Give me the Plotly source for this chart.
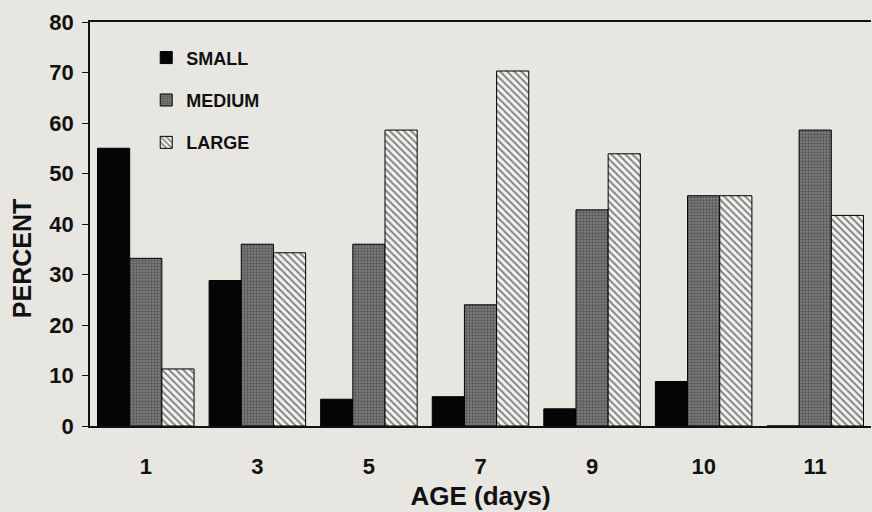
import plotly.graph_objects as go

ages = ["1", "3", "5", "7", "9", "10", "11"]
small = [55.0, 28.8, 5.3, 5.8, 3.4, 8.8, 0.0]
medium = [33.2, 36.0, 36.0, 24.0, 42.8, 45.6, 58.6]
large = [11.3, 34.3, 58.6, 70.3, 53.9, 45.6, 41.7]
y_ticks = [0, 10, 20, 30, 40, 50, 60, 70, 80]

FONT = "Liberation Sans, Arial, sans-serif"
BG = "#e8e6e1"

fig = go.Figure()
fig.add_trace(go.Bar(
    x=ages, y=small, name="SMALL", legendgroup="s",
    marker=dict(color="#050505", line=dict(color="#000000", width=1)),
))
fig.add_trace(go.Bar(
    x=ages, y=medium, name="MEDIUM", legendgroup="m",
    marker=dict(color="#6e6e6e", line=dict(color="#000000", width=1),
                pattern=dict(shape=".", fgcolor="#2a2a2a", bgcolor="#7e7e7e",
                             size=3, solidity=0.45)),
))
fig.add_trace(go.Bar(
    x=ages, y=large, name="LARGE", legendgroup="l",
    marker=dict(color="#f2f2f0", line=dict(color="#000000", width=1),
                pattern=dict(shape="\\", fgcolor="#111111", bgcolor="#f2f2f0",
                             size=5, solidity=0.4)),
))

fig.update_layout(
    width=872, height=512,
    paper_bgcolor=BG, plot_bgcolor=BG,
    margin=dict(l=90, r=1, t=22, b=86),
    barmode="group", bargap=0.135, bargroupgap=0,
    font=dict(family=FONT, color="#111111"),
    legend=dict(x=0.072, y=0.957, xanchor="left", yanchor="top",
                bgcolor="rgba(0,0,0,0)", tracegroupgap=16,
                font=dict(size=18, family=FONT, weight="bold"),
                traceorder="grouped"),
    showlegend=True,
    annotations=[dict(
        text="PERCENT", textangle=-90, xref="paper", yref="paper",
        x=0, y=0.413, xanchor="center", yanchor="middle", xshift=-68,
        showarrow=False, font=dict(size=25, family=FONT, weight="bold", color="#111111"),
    )],
)
fig.update_xaxes(
    type="category", range=[-0.5, 6.5],
    showline=True, linecolor="#111111", linewidth=1.5, mirror=True,
    ticks="", showgrid=False,
    tickfont=dict(size=22, family=FONT, weight="bold"),
    ticklabelstandoff=20,
    title=dict(text="AGE (days)", font=dict(size=26, family=FONT, weight="bold"),
               standoff=9),
)
fig.update_yaxes(
    range=[0, 80], tickvals=y_ticks,
    showline=True, linecolor="#111111", linewidth=1.5,
    ticks="outside", ticklen=6, tickcolor="#111111", tickwidth=1.2,
    showgrid=False, zeroline=False,
    tickfont=dict(size=22, family=FONT, weight="bold"),
    ticklabelstandoff=4,
)

fig.write_html("out.html", config={"displayModeBar": False},
               post_script="document.body.style.margin='0';")
